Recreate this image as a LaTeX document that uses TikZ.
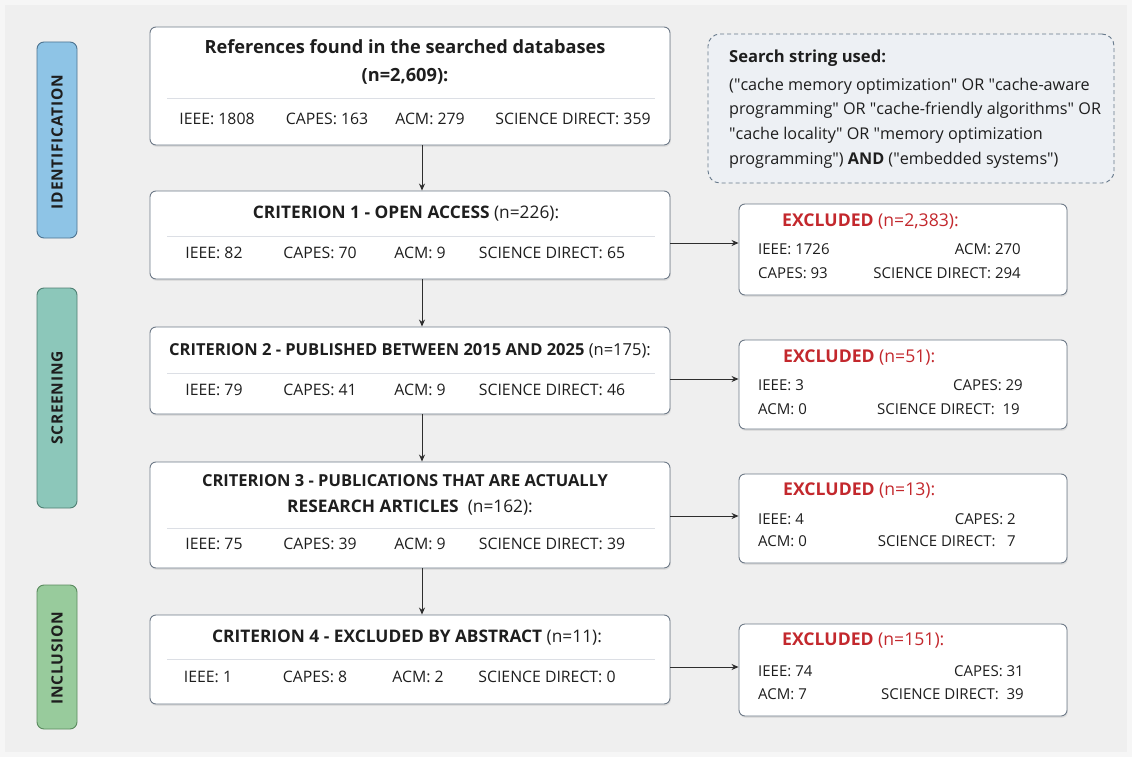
\documentclass[tikz,border=0pt]{standalone}
\usepackage{fontspec}
\setmainfont{Open Sans}
\newfontfamily\sidefont[LetterSpace=5]{Open Sans}
\usetikzlibrary{arrows.meta,shadows,calc}
\definecolor{bgc}{HTML}{EFEFEF}
\definecolor{bgedge}{HTML}{F6F6F6}
\definecolor{boxline}{HTML}{6E7A88}
\definecolor{sepline}{HTML}{DCDFE5}
\definecolor{arrowc}{HTML}{2E2E2E}
\definecolor{exred}{HTML}{C3282D}
\definecolor{srchfill}{HTML}{EDF0F4}
\definecolor{srchline}{HTML}{66788A}
\definecolor{txtc}{HTML}{1E1E1E}
\definecolor{idfill}{HTML}{8EC4E6}
\definecolor{idline}{HTML}{4D7390}
\definecolor{scfill}{HTML}{8CC7BA}
\definecolor{scline}{HTML}{4F7F73}
\definecolor{infill}{HTML}{98CB9C}
\definecolor{inline}{HTML}{5A8A5E}
\newcommand\fsT{\fontsize{16.5}{20}\selectfont}
\newcommand\fsTb{\fontsize{17.3}{20}\selectfont}
\newcommand\fsA{\fontsize{18.2}{22}\selectfont}
\newcommand\fsR{\fontsize{15.8}{19}\selectfont}
\newcommand\fsS{\fontsize{16.2}{24}\selectfont}
\newcommand\fsH{\fontsize{16.6}{24}\selectfont}
\newcommand\fsX{\fontsize{17.6}{21}\selectfont}
\newcommand\fsE{\fontsize{15}{18}\selectfont}
\newcommand\fsL{\fontsize{15.5}{18}\selectfont}
\newcommand\qq{\textquotedbl}
\begin{document}
\begin{tikzpicture}[x=1pt,y=-1pt,
  mainbox/.style={draw=boxline, fill=white, rounded corners=6pt, line width=0.9pt,
    drop shadow={opacity=0.16, shadow xshift=0.8pt, shadow yshift=-1.8pt}},
  exbox/.style={mainbox, minimum width=328pt},
  sidebox/.style={rounded corners=7pt, line width=0.9pt, minimum width=40pt},
  sidetxt/.style={rotate=90, font=\sidefont\bfseries\fsL, text=txtc, inner sep=0pt},
  txt/.style={inner sep=0pt, text height=0.72em, text depth=0pt, text=txtc},
  ttl/.style={txt, font=\fsT},
  row/.style={txt, font=\fsR},
  exttl/.style={txt, font=\fsX, text=exred, anchor=west},
  exrow/.style={txt, font=\fsE},
  srch/.style={txt, font=\fsS, anchor=west},
  sep/.style={draw=sepline, line width=0.9pt},
  arr/.style={draw=arrowc, line width=1pt, -{Stealth[length=7pt,width=6pt]}}
]
\useasboundingbox (0,0) rectangle (1132,757);
\fill[bgedge] (0,0) rectangle (1132,757);
\fill[bgc] (5,5) rectangle (1127,752);

% side labels
\node[sidebox, draw=idline, fill=idfill, minimum height=196pt] (sid) at (57,140) {};
\node[sidetxt] (sidt) at (57,142) {IDENTIFICATION};
\node[sidebox, draw=scline, fill=scfill, minimum height=220pt] (ssc) at (57,398) {};
\node[sidetxt] (ssct) at (57,398) {SCREENING};
\node[sidebox, draw=inline, fill=infill, minimum height=144pt] (sin) at (57,657) {};
\node[sidetxt] (sint) at (57,658) {INCLUSION};

% search string
\node[draw=srchline, fill=srchfill, dashed, dash pattern=on 4pt off 3pt, line width=0.9pt,
  rounded corners=12pt, minimum width=406pt, minimum height=149pt] (S) at (911,108.5) {};
\node[srch, font=\fsH\bfseries] (S0) at (729,59) {Search string used:};
\node[srch] (S1) at (729,87) {(\qq cache memory optimization\qq{} OR \qq cache-aware};
\node[srch] (S2) at (729,111) {programming\qq{} OR \qq cache-friendly algorithms\qq{} OR};
\node[srch] (S3) at (729,136) {\qq cache locality\qq{} OR \qq memory optimization};
\node[srch] (S4) at (729,161) {programming\qq) \textbf{AND} (\qq embedded systems\qq)};

% main boxes
\node[mainbox, minimum width=520pt, minimum height=118pt] (A) at (410,86) {};
\node[mainbox, minimum width=520pt, minimum height=88pt] (B) at (410,235) {};
\node[mainbox, minimum width=520pt, minimum height=87pt] (C) at (410,370.5) {};
\node[mainbox, minimum width=520pt, minimum height=106pt] (D) at (410,515) {};
\node[mainbox, minimum width=520pt, minimum height=89pt] (E) at (410,659.5) {};

% box A
\node[ttl, font=\fsA\bfseries] (A1) at (405,50) {References found in the searched databases};
\node[ttl, font=\fsA\bfseries] (A2) at (405,78) {(n=2,609):};
\draw[sep] (167,98) -- (655,98);
\node[row] (Ar1) at (217,121) {IEEE: 1808};
\node[row] (Ar2) at (327,121) {CAPES: 163};
\node[row] (Ar3) at (430,121) {ACM: 279};
\node[row] (Ar4) at (573,121) {SCIENCE DIRECT: 359};

% box B
\node[ttl, font=\fsTb] (B1) at (406,215) {\textbf{CRITERION 1 - OPEN ACCESS} (n=226):};
\draw[sep] (167,236) -- (655,236);
\node[row] (Br1) at (214,255) {IEEE: 82};
\node[row] (Br2) at (320,255) {CAPES: 70};
\node[row] (Br3) at (420,255) {ACM: 9};
\node[row] (Br4) at (552,255) {SCIENCE DIRECT: 65};

% box C
\node[ttl] (C1) at (410,352) {\textbf{CRITERION 2 - PUBLISHED BETWEEN 2015 AND 2025} (n=175):};
\draw[sep] (167,373) -- (655,373);
\node[row] (Cr1) at (214,392) {IEEE: 79};
\node[row] (Cr2) at (320,392) {CAPES: 41};
\node[row] (Cr3) at (420,392) {ACM: 9};
\node[row] (Cr4) at (552,392) {SCIENCE DIRECT: 46};

% box D
\node[ttl, font=\fsT\bfseries] (D1) at (405,483) {CRITERION 3 - PUBLICATIONS THAT ARE ACTUALLY};
\node[ttl, font=\fsTb] (D2) at (410,509) {\textbf{RESEARCH ARTICLES}\ \ (n=162):};
\draw[sep] (167,528) -- (655,528);
\node[row] (Dr1) at (214,546) {IEEE: 75};
\node[row] (Dr2) at (320,546) {CAPES: 39};
\node[row] (Dr3) at (420,546) {ACM: 9};
\node[row] (Dr4) at (552,546) {SCIENCE DIRECT: 39};

% box E
\node[ttl, font=\fsTb] (E1t) at (407,639) {\textbf{CRITERION 4 - EXCLUDED BY ABSTRACT} (n=11):};
\draw[sep] (167,659) -- (655,659);
\node[row] (Er1) at (208,679) {IEEE: 1};
\node[row] (Er2) at (315,679) {CAPES: 8};
\node[row] (Er3) at (418,679) {ACM: 2};
\node[row] (Er4) at (547,679) {SCIENCE DIRECT: 0};

% excluded boxes
\node[exbox, minimum height=91pt] (X1) at (903,249.5) {};
\node[exttl] (X1t) at (782,223) {\textbf{EXCLUDED} (n=2,383):};
\node[exrow, anchor=west] (X1a) at (758,251) {IEEE: 1726};
\node[exrow, anchor=east] (X1b) at (1021,251) {ACM: 270};
\node[exrow, anchor=west] (X1c) at (758,275) {CAPES: 93};
\node[exrow, anchor=east] (X1d) at (1021,275) {SCIENCE DIRECT: 294};

\node[exbox, minimum height=89pt] (X2) at (903,384.5) {};
\node[exttl] (X2t) at (783,359) {\textbf{EXCLUDED} (n=51):};
\node[exrow, anchor=west] (X2a) at (758,387) {IEEE: 3};
\node[exrow, anchor=east] (X2b) at (1023,387) {CAPES: 29};
\node[exrow, anchor=west] (X2c) at (758,411) {ACM: 0};
\node[exrow, anchor=east] (X2d) at (1020,411) {SCIENCE DIRECT:\ \ 19};

\node[exbox, minimum height=89pt] (X3) at (903,518.5) {};
\node[exttl] (X3t) at (783,492) {\textbf{EXCLUDED} (n=13):};
\node[exrow, anchor=west] (X3a) at (758,521) {IEEE: 4};
\node[exrow, anchor=east] (X3b) at (1016,521) {CAPES:\ 2};
\node[exrow, anchor=west] (X3c) at (758,543) {ACM: 0};
\node[exrow, anchor=east] (X3d) at (1016,543) {SCIENCE DIRECT:\ \ \ 7};

\node[exbox, minimum height=92pt] (X4) at (903,670) {};
\node[exttl] (X4t) at (782,642) {\textbf{EXCLUDED} (n=151):};
\node[exrow, anchor=west] (X4a) at (758,673) {IEEE: 74};
\node[exrow, anchor=east] (X4b) at (1024,673) {CAPES: 31};
\node[exrow, anchor=west] (X4c) at (758,696) {ACM: 7};
\node[exrow, anchor=east] (X4d) at (1024,696) {SCIENCE DIRECT:\ \ 39};

% vertical arrows
\draw[arr] ([xshift=12pt]A.south) -- ([xshift=12pt]B.north);
\draw[arr] ([xshift=12pt]B.south) -- ([xshift=12pt]C.north);
\draw[arr] ([xshift=12pt]C.south) -- ([xshift=12pt]D.north);
\draw[arr] ([xshift=12pt]D.south) -- ([xshift=12pt]E.north);

% horizontal arrows
\draw[arr] ([yshift=-8pt]B.east) -- ([yshift=-8pt]B.east -| X1.west);
\draw[arr] ([yshift=-8.5pt]C.east) -- ([yshift=-8.5pt]C.east -| X2.west);
\draw[arr] ([yshift=-1pt]D.east) -- ([yshift=-1pt]D.east -| X3.west);
\draw[arr] ([yshift=-7.5pt]E.east) -- ([yshift=-7.5pt]E.east -| X4.west);
\end{tikzpicture}
\end{document}
